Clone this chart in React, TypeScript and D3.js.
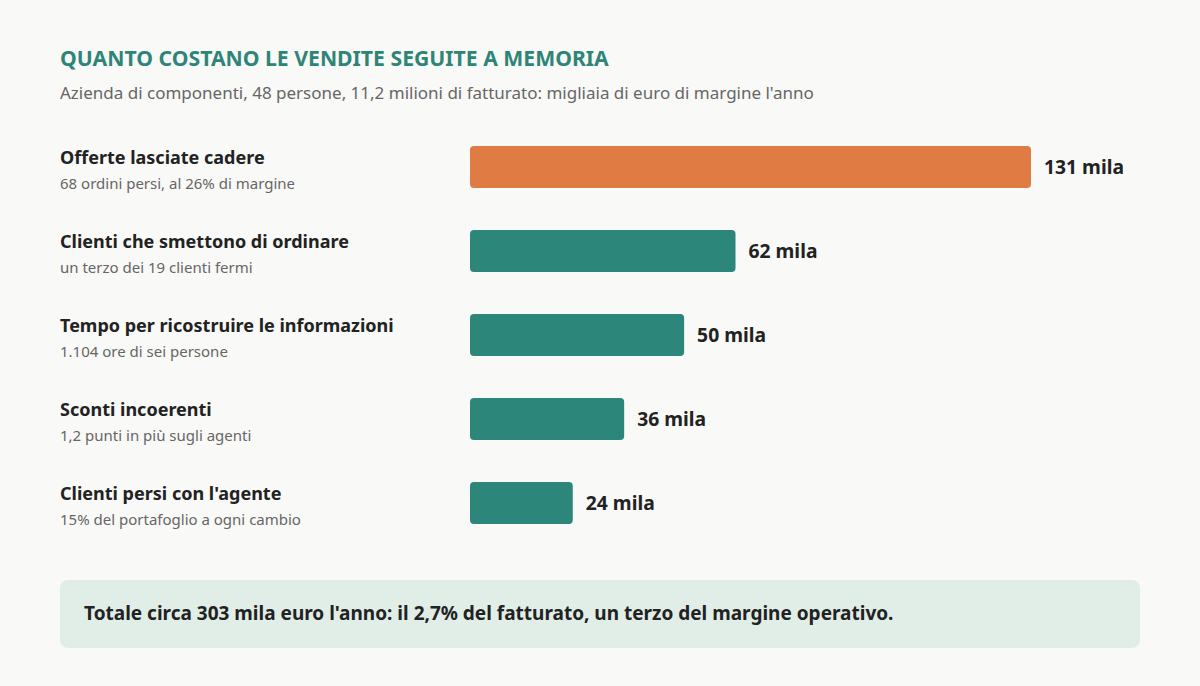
import React, { useEffect, useRef } from "react";
import * as d3 from "d3";

const categories = [
  "Offerte lasciate cadere",
  "Clienti che smettono di ordinare",
  "Tempo per ricostruire le informazioni",
  "Sconti incoerenti",
  "Clienti persi con l'agente",
];
const notes = [
  "68 ordini persi, al 26% di margine",
  "un terzo dei 19 clienti fermi",
  "1.104 ore di sei persone",
  "1,2 punti in più sugli agenti",
  "15% del portafoglio a ogni cambio",
];
const values = [131, 62, 50, 36, 24];

const title = "QUANTO COSTANO LE VENDITE SEGUITE A MEMORIA";
const subtitle =
  "Azienda di componenti, 48 persone, 11,2 milioni di fatturato: migliaia di euro di margine l'anno";
const footnote =
  "Totale circa 303 mila euro l'anno: il 2,7% del fatturato, un terzo del margine operativo.";

const W = 1200;
const H = 686;
const FONT = "'Noto Sans', 'Open Sans', sans-serif";

const App = () => {
  const ref = useRef<SVGSVGElement>(null);

  useEffect(() => {
    document.body.style.margin = "0";
    draw();
  });

  const draw = () => {
    const svg = d3.select(ref.current);
    svg.selectAll("*").remove();

    svg.append("rect").attr("width", W).attr("height", H).attr("fill", "#f9f9f7");

    svg
      .append("text")
      .attr("x", 60)
      .attr("y", 66)
      .attr("font-size", 21.2)
      .attr("font-weight", 700)
      .attr("fill", "#2e8577")
      .text(title);

    svg
      .append("text")
      .attr("x", 60)
      .attr("y", 99)
      .attr("font-size", 17)
      .attr("fill", "#666")
      .text(subtitle);

    const x = d3.scaleLinear().domain([0, 131]).range([470, 1031]);
    const y = d3
      .scaleBand()
      .domain(categories)
      .range([125, 545])
      .paddingInner(0.5)
      .paddingOuter(0.25);

    const rows = svg
      .append("g")
      .selectAll("g")
      .data(categories)
      .join("g");

    rows
      .append("rect")
      .attr("x", x(0))
      .attr("y", (d) => y(d)!)
      .attr("width", (d, i) => x(values[i]) - x(0))
      .attr("height", y.bandwidth())
      .attr("rx", 4)
      .attr("fill", (d, i) => (i === 0 ? "#e07c43" : "#2c877a"));

    rows
      .append("text")
      .attr("x", (d, i) => x(values[i]) + 13)
      .attr("y", (d) => y(d)! + y.bandwidth() / 2 + 7)
      .attr("font-size", 19.3)
      .attr("font-weight", 700)
      .attr("fill", "#222")
      .text((d, i) => `${values[i]} mila`);

    rows
      .append("text")
      .attr("x", 60)
      .attr("y", (d) => y(d)! + 18)
      .attr("font-size", 18)
      .attr("font-weight", 700)
      .attr("fill", "#222")
      .text((d) => d);

    rows
      .append("text")
      .attr("x", 60)
      .attr("y", (d) => y(d)! + 43)
      .attr("font-size", 15)
      .attr("fill", "#666")
      .text((d, i) => notes[i]);

    // riquadro in fondo
    svg
      .append("rect")
      .attr("x", 60)
      .attr("y", 580)
      .attr("width", 1080)
      .attr("height", 68)
      .attr("rx", 8)
      .attr("fill", "#e0eee7");

    svg
      .append("text")
      .attr("x", 84)
      .attr("y", 620)
      .attr("font-size", 19)
      .attr("font-weight", 700)
      .attr("fill", "#222")
      .text(footnote);
  };

  return (
    <svg
      ref={ref}
      width={W}
      height={H}
      style={{ display: "block", fontFamily: FONT }}
    />
  );
};

export default App;
